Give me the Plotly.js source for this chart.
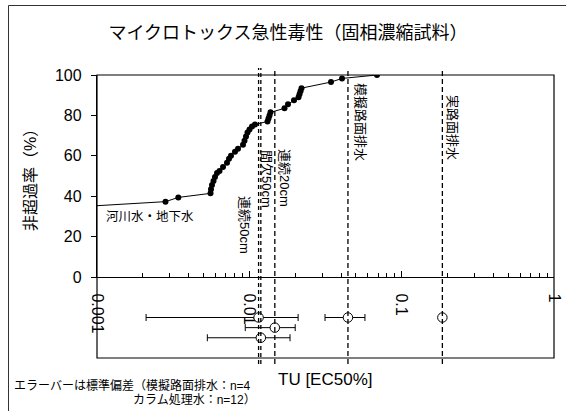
<!DOCTYPE html>
<html><head><meta charset="utf-8">
<script src="https://cdn.plot.ly/plotly-3.0.1.min.js"></script>
<style>html,body{margin:0;padding:0;background:#fff}#c{width:566px;height:411px}</style>
</head><body><div id="c"></div>
<script>
// cumulative curve (river water / groundwater)
const cdfTU = [0.002816,0.003418,0.005560,0.005602,0.005687,0.005818,0.005951,0.006135,0.006371,0.006717,0.007134,0.007353,0.007579,0.008050,0.008424,0.009087,0.009296,0.009508,0.009727,0.010025,0.010411,0.010894,0.013160,0.013360,0.013564,0.013772,0.017014,0.017940,0.019643,0.021025,0.021347,0.021670,0.022002,0.034371,0.040590,0.068850];
const cdfPct = [37.3,39.4,41.4,43.5,45.5,47.5,49.5,51.5,52.5,54.5,56.5,58.5,60,62,63.5,65.5,67.5,69.5,71.5,73,74.5,75.5,77,78.5,80,81.5,83.5,85.5,87.5,89,90.5,92,93.5,96.5,98.3,100];
const lineStartTU = 0.001, lineStartPct = 35.3;

// treated / road water samples
const sampleNames = ['連続50cm','間欠50cm','連続20cm','模擬路面排水','実路面排水'];
const sampleTU = [0.0115,0.0119,0.0147,0.0444,0.185];
const sampleSD = [0.0094,0.0066,0.0053,0.013,0];
const sampleRow = [2,1,1.5,2,2];

const xTickVals = [0.001,0.01,0.1,1];
const xTickText = ['0.001','0.01','0.1','1'];
const yTickVals = [0,20,40,60,80,100];

const F = 'Liberation Sans, Arial, Noto Sans CJK JP, sans-serif';
const L = 97, T = 75, W = 457, H = 283;
const px = x => (x - L) / W, py = y => (T + H - y) / H;

const minor = [];
[0.001,0.01,0.1].forEach(d => { for (let k = 2; k <= 9; k++) minor.push(+(d*k).toPrecision(3)); });

const traces = [
  {x:[lineStartTU].concat(cdfTU), y:[lineStartPct].concat(cdfPct), mode:'lines', type:'scatter',
   line:{color:'#000', width:1}, hoverinfo:'skip', xaxis:'x', yaxis:'y'},
  {x:cdfTU, y:cdfPct, mode:'markers', type:'scatter',
   marker:{color:'#000', size:6}, xaxis:'x', yaxis:'y'},
  {x:sampleTU, y:sampleRow, mode:'markers', type:'scatter', xaxis:'x', yaxis:'y2',
   error_x:{type:'data', array:sampleSD, visible:true, color:'#000', thickness:1, width:3.5},
   marker:{color:'#fff', size:9.5, line:{color:'#000', width:1}}, cliponaxis:false}
];

const shapes = [];
sampleTU.forEach((v, i) => {
  const dbl = i < 2;
  shapes.push({type:'line', xref:'x', yref:'paper', x0:v, x1:v, y0:py(364), y1:py(68),
    line:{color:'#000', width:1.3, dash: dbl ? '4px,3px' : '5px,3px'}, layer:'above'});
});
shapes.push({type:'rect', xref:'paper', yref:'paper', x0:0, x1:1, y0:0, y1:1, line:{color:'#000', width:1.2}});
shapes.push({type:'path', xref:'paper', yref:'paper', path:`M ${px(8.5)} ${py(420)} L ${px(8.5)} ${py(5.5)} L ${px(580)} ${py(5.5)}`, line:{color:'#333', width:1}});

const A = (text, x, y, size, extra) => Object.assign({text, xref:'paper', yref:'paper', x:px(x), y:py(y),
  showarrow:false, xanchor:'center', yanchor:'middle', font:{family:F, size, color:'#000'}}, extra || {});

const labelPos = [[245,225],[267,179],[285,178],[360,122],[453,127]];
const annotations = sampleNames.map((t, i) => A(t, labelPos[i][0], labelPos[i][1], 13, {textangle:90}));
annotations.push(A('河川水・地下水', 150, 217, 12.5));
annotations.push(A('TU [EC50%]', 325, 379, 17));
annotations.push(A('非超過率（%）', 30, 176, 16, {textangle:-90}));
annotations.push(A('エラーバーは標準偏差（模擬路面排水：n=4', 12, 385, 12, {xanchor:'left'}));
annotations.push(A('カラム処理水：n=12）', 258, 400, 12, {xanchor:'right'}));

const layout = {
  width:566, height:411, margin:{l:L, r:566-L-W, t:T, b:411-T-H},
  paper_bgcolor:'#fff', plot_bgcolor:'#fff', showlegend:false,
  font:{family:F, color:'#000'},
  title:{text:'マイクロトックス急性毒性（固相濃縮試料）', x:288/566, xanchor:'center', y:1-33/411, yanchor:'middle',
    font:{family:F, size:18, color:'#000'}},
  xaxis:{type:'log', range:[-3,0], anchor:'y', tickmode:'array', tickvals:xTickVals, ticktext:xTickText,
    ticks:'inside', ticklen:6, tickcolor:'#000', tickangle:90, ticklabelstandoff:12,
    tickfont:{family:F, size:16, color:'#000'}, showline:true, linecolor:'#000', linewidth:1.2,
    showgrid:false, zeroline:false, minor:{tickmode:'array', tickvals:minor, ticks:'inside', ticklen:4, tickcolor:'#000', showgrid:false}},
  yaxis:{domain:[81/283,1], range:[0,100], tickmode:'array', tickvals:yTickVals, ticks:'outside', ticklen:5,
    tickcolor:'#000', tickfont:{family:F, size:16, color:'#000'}, showline:true, linecolor:'#000', linewidth:1.2,
    showgrid:false, zeroline:false, ticklabelstandoff:6},
  yaxis2:{domain:[0,81/283], range:[0,4], visible:false, fixedrange:true},
  shapes:shapes, annotations:annotations
};
Plotly.newPlot('c', traces, layout, {staticPlot:true});
</script></body></html>
